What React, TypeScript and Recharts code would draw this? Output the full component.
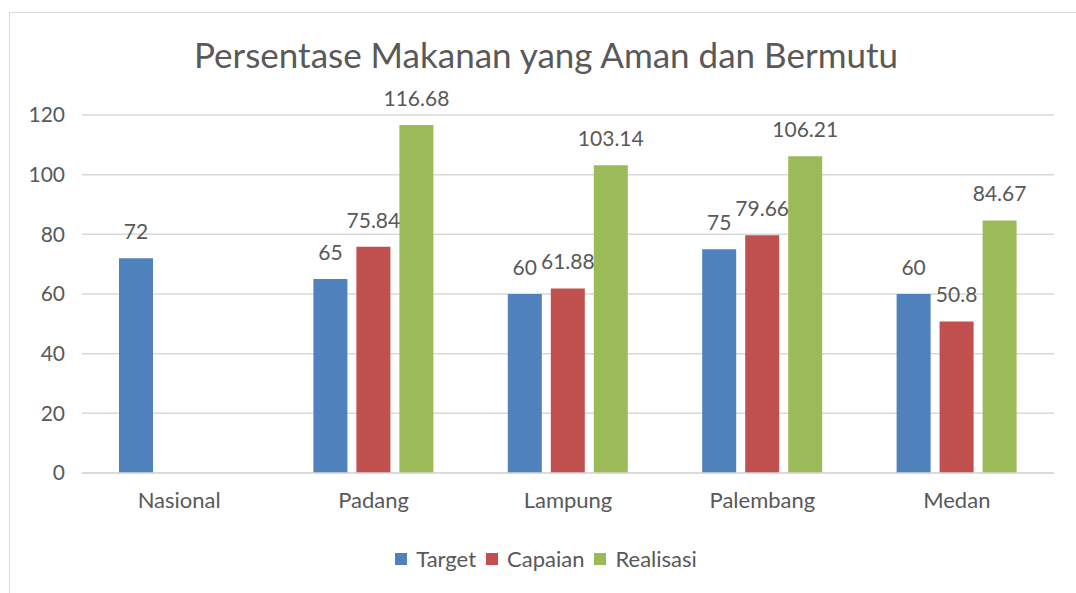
import React from 'react';
import { BarChart, Bar, XAxis, YAxis, CartesianGrid, Legend, LabelList } from 'recharts';

const categories = ['Nasional', 'Padang', 'Lampung', 'Palembang', 'Medan'];
const target = [72, 65, 60, 75, 60];
const capaian: (number | null)[] = [null, 75.84, 61.88, 79.66, 50.8];
const realisasi: (number | null)[] = [null, 116.68, 103.14, 106.21, 84.67];
const yTicks = [0, 20, 40, 60, 80, 100, 120];

const series = [
  { key: 'target', name: 'Target', color: '#4F81BD' },
  { key: 'capaian', name: 'Capaian', color: '#C0504D' },
  { key: 'realisasi', name: 'Realisasi', color: '#9BBB59' },
];

const data = categories.map((name, i) => ({
  name,
  target: target[i],
  capaian: capaian[i],
  realisasi: realisasi[i],
}));

const FONT = 'Lato, "Noto Sans", sans-serif';
const TEXT = '#595959';

const LegendContent = () => (
  <div style={{ display: 'flex', justifyContent: 'center', alignItems: 'center', gap: 10, fontFamily: FONT, fontSize: 22, color: TEXT }}>
    {series.map(s => (
      <div key={s.key} style={{ display: 'flex', alignItems: 'center' }}>
        <span style={{ display: 'inline-block', width: 12, height: 12, background: s.color, marginRight: 9 }} />
        <span>{s.name}</span>
      </div>
    ))}
  </div>
);

export default function App() {
  return (
    <div style={{ position: 'absolute', left: 0, top: 0, width: 1076, height: 593, overflow: 'hidden', background: '#fff' }}>
      {/* bingkai grafik */}
      <div style={{ position: 'absolute', left: 9, top: 12, width: 1200, height: 700, border: '1px solid #D9D9D9' }} />
      <div style={{ position: 'absolute', left: 0, top: 33, width: 1092, textAlign: 'center', fontFamily: FONT, fontSize: 35, color: TEXT }}>
        Persentase Makanan yang Aman dan Bermutu
      </div>
      <div style={{ position: 'absolute', left: 0, top: 0 }}>
        <BarChart
          width={1076}
          height={593}
          data={data}
          margin={{ top: 115, right: 22, left: 22, bottom: 63 }}
          barSize={34}
          barGap={9}
        >
          <CartesianGrid vertical={false} stroke="#D9D9D9" strokeWidth={1.5} />
          <XAxis
            dataKey="name"
            height={30}
            tickSize={0}
            tickMargin={19}
            axisLine={{ stroke: '#D9D9D9', strokeWidth: 1.5 }}
            tickLine={false}
            tick={{ fill: TEXT, fontSize: 22, fontFamily: FONT }}
          />
          <YAxis
            width={60}
            domain={[0, 120]}
            ticks={yTicks}
            tickSize={0}
            tickMargin={17}
            axisLine={false}
            tickLine={false}
            tick={{ fill: TEXT, fontSize: 21, fontFamily: FONT }}
          />
          <Legend
            layout="vertical"
            align="center"
            verticalAlign="bottom"
            content={<LegendContent />}
            wrapperStyle={{ top: 545, left: 16, width: 1060 }}
          />
          {series.map(s => (
            <Bar key={s.key} dataKey={s.key} name={s.name} fill={s.color} isAnimationActive={false}>
              <LabelList dataKey={s.key} position="top" offset={19} fill={TEXT} fontSize={21} fontFamily={FONT} />
            </Bar>
          ))}
        </BarChart>
      </div>
    </div>
  );
}
